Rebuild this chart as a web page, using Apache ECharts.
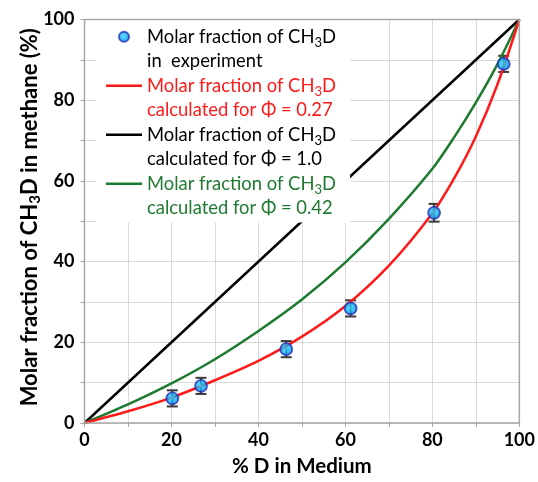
<!DOCTYPE html>
<html>
<head>
<meta charset="utf-8">
<script src="https://cdn.jsdelivr.net/npm/echarts@6/dist/echarts.min.js"></script>
<style>
html,body{margin:0;padding:0;background:#fff;}
#chart{width:538px;height:482px;}
</style>
</head>
<body>
<div id="chart"></div>
<script>
// ---- data ----
var curveX = [0, 10, 20, 30, 40, 50, 60, 70, 80, 85, 90, 95, 100];
var redPhi027 = [0, 2.9, 6.3, 10.6, 15.4, 21.4, 29.0, 39.0, 52.0, 60.6, 71.0, 84.0, 100];
var greenPhi042 = [0, 4.6, 9.8, 15.8, 22.8, 30.6, 39.8, 50.6, 63.0, 70.8, 79.4, 89.0, 100];
var blackX = [0, 100];
var blackPhi1 = [0, 100];
var expX = [20.2, 26.8, 46.4, 61.2, 80.4, 96.4];
var expY = [6.1, 9.2, 18.3, 28.4, 52.1, 89.0];
var expErr = [2.0, 2.0, 2.0, 2.0, 2.2, 2.0];
var xTicks = [0, 20, 40, 60, 80, 100];
var yTicks = [0, 20, 40, 60, 80, 100];

function pairs(xs, ys) { return xs.map(function (x, i) { return [x, ys[i]]; }); }

var FONT = 'Lato';
var LH = 24.5;
var LFS = 18.4;
function rs(color) {
  return {
    m: { color: color, fontSize: LFS, fontFamily: FONT, lineHeight: LH },
    s: { color: color, fontSize: 13, fontFamily: FONT, lineHeight: 14, verticalAlign: 'bottom' }
  };
}
var RED = '#ff1a1a', GREEN = '#1e7a30', BLACK = '#000000';
var rich = {};
[['k', BLACK], ['r', RED], ['g', GREEN]].forEach(function (c) {
  var st = rs(c[1]);
  rich[c[0]] = st.m;
  rich[c[0] + 's'] = st.s;
});
function entry(p, second) {
  return '\n{' + p + '|Molar fraction of CH}{' + p + 's|3}{' + p + '|D}\n{' + p + '|' + second + '}';
}
var legendText = {
  exp: entry('k', 'in  experiment'),
  phi027: entry('r', 'calculated for \u03A6 = 0.27'),
  phi1: entry('k', 'calculated for \u03A6 = 1.0'),
  phi042: entry('g', 'calculated for \u03A6 = 0.42')
};
var lineIcon = 'path://M0,0L36,0L36,2.6L0,2.6Z';

var chart = echarts.init(document.getElementById('chart'), null, { renderer: 'canvas' });
var axisLabelStyle = { fontFamily: FONT, fontWeight: 'bold', fontSize: 18, color: '#000' };
var option = {
  animation: false,
  backgroundColor: '#ffffff',
  grid: {
    left: 84.5, right: 16.5, top: 19.5, bottom: 58,
    show: true, borderColor: '#a6a6a6', borderWidth: 1.5, backgroundColor: 'transparent', z: 10
  },
  legend: {
    orient: 'vertical',
    left: 96, top: 0,
    padding: [0, 14, 2, 10],
    itemGap: -LH,
    itemWidth: 36, itemHeight: 10,
    backgroundColor: '#ffffff',
    z: 4,
    selectedMode: false,
    data: [
      { name: 'exp' },
      { name: 'phi027', icon: lineIcon },
      { name: 'phi1', icon: lineIcon },
      { name: 'phi042', icon: lineIcon }
    ],
    formatter: function (n) { return legendText[n]; },
    textStyle: { fontFamily: FONT, fontSize: LFS, lineHeight: LH, rich: rich }
  },
  xAxis: {
    type: 'value', min: 0, max: 100, interval: 10,
    name: '% D in Medium', nameLocation: 'middle', nameGap: 33,
    nameTextStyle: { fontFamily: FONT, fontWeight: 'bold', fontSize: 20.5, color: '#000' },
    axisLine: { show: false },
    axisTick: { show: true, length: 4, lineStyle: { color: '#a6a6a6' } },
    axisLabel: Object.assign({ margin: 8, formatter: function (v) { return xTicks.indexOf(v) >= 0 ? String(v) : ''; } }, axisLabelStyle),
    splitLine: { show: true, lineStyle: { color: '#d9d9d9', width: 1 } }
  },
  yAxis: {
    type: 'value', min: 0, max: 100, interval: 10,
    name: 'Molar fraction of CH{s|3}D in methane (%)', nameLocation: 'middle', nameGap: 42,
    nameMoveOverlap: false,
    nameTextStyle: {
      fontFamily: FONT, fontWeight: 'bold', fontSize: 22, color: '#000', lineHeight: 26,
      padding: [0, 0, 0, 8],
      rich: { s: { fontFamily: FONT, fontWeight: 'bold', fontSize: 15, color: '#000', lineHeight: 16, verticalAlign: 'bottom' } }
    },
    axisLine: { show: false },
    axisTick: { show: true, length: 4, lineStyle: { color: '#a6a6a6' } },
    axisLabel: Object.assign({ margin: 10, formatter: function (v) { return yTicks.indexOf(v) >= 0 ? String(v) : ''; } }, axisLabelStyle),
    splitLine: { show: true, lineStyle: { color: '#d9d9d9', width: 1 } }
  },
  series: [
    {
      name: 'phi1', type: 'line', data: pairs(blackX, blackPhi1), showSymbol: false, symbol: 'none',
      lineStyle: { color: BLACK, width: 2.5 }, itemStyle: { color: BLACK }, z: 2
    },
    {
      name: 'phi042', type: 'line', data: pairs(curveX, greenPhi042), smooth: 0.3, showSymbol: false, symbol: 'none',
      lineStyle: { color: GREEN, width: 2.5 }, itemStyle: { color: GREEN }, z: 2
    },
    {
      name: 'phi027', type: 'line', data: pairs(curveX, redPhi027), smooth: 0.3, showSymbol: false, symbol: 'none',
      lineStyle: { color: RED, width: 2.5 }, itemStyle: { color: RED }, z: 2
    },
    {
      name: 'err', type: 'custom', z: 2,
      data: expX.map(function (x, i) { return [x, expY[i], expErr[i]]; }),
      renderItem: function (params, api) {
        var x = api.value(0), y = api.value(1), e = api.value(2);
        var t = api.coord([x, y + e]), b = api.coord([x, y - e]);
        var hw = 5.5;
        var st = { stroke: '#3a3a3a', lineWidth: 2 };
        return {
          type: 'group',
          children: [
            { type: 'line', shape: { x1: t[0], y1: t[1], x2: b[0], y2: b[1] }, style: st },
            { type: 'line', shape: { x1: t[0] - hw, y1: t[1], x2: t[0] + hw, y2: t[1] }, style: st },
            { type: 'line', shape: { x1: b[0] - hw, y1: b[1], x2: b[0] + hw, y2: b[1] }, style: st }
          ]
        };
      }
    },
    {
      name: 'exp', type: 'scatter', z: 3, symbol: 'circle', symbolSize: 12,
      data: pairs(expX, expY),
      itemStyle: {
        color: new echarts.graphic.RadialGradient(0.45, 0.45, 0.6, [
          { offset: 0, color: '#35d6ff' },
          { offset: 0.6, color: '#0aa8f0' },
          { offset: 1, color: '#1f50d8' }
        ]),
        borderColor: '#2434b8', borderWidth: 1.8
      }
    }
  ]
};
chart.setOption(option);
</script>
</body>
</html>
